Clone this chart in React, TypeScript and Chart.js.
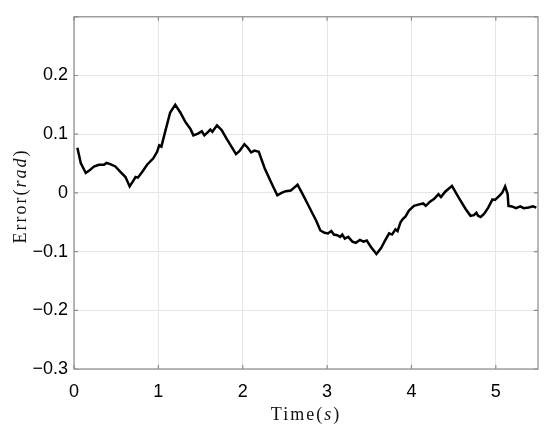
import React, { useEffect, useRef } from "react";
import { Chart, registerables } from "chart.js";

Chart.register(...registerables);

const timeValues: number[] = [
  0.04, 0.08, 0.14, 0.18, 0.236, 0.295, 0.355, 0.386, 0.43, 0.49, 0.55, 0.61, 0.66, 0.7, 0.73, 0.757,
  0.81, 0.866, 0.94, 0.985, 1.01, 1.036, 1.08, 1.14, 1.2, 1.26, 1.32, 1.38, 1.415, 1.47, 1.515, 1.545,
  1.59, 1.615, 1.64, 1.695, 1.75, 1.81, 1.87, 1.92, 1.96, 2.02, 2.06, 2.1, 2.14, 2.19, 2.26, 2.34,
  2.41, 2.46, 2.51, 2.57, 2.61, 2.65, 2.71, 2.77, 2.83, 2.87, 2.92, 2.97, 3.01, 3.05, 3.08, 3.12,
  3.155, 3.18, 3.21, 3.25, 3.3, 3.34, 3.39, 3.43, 3.47, 3.52, 3.585, 3.64, 3.68, 3.735, 3.77, 3.81,
  3.835, 3.87, 3.9, 3.93, 3.97, 4.03, 4.08, 4.14, 4.17, 4.22, 4.27, 4.32, 4.35, 4.4, 4.48, 4.56,
  4.64, 4.7, 4.74, 4.77, 4.79, 4.82, 4.86, 4.91, 4.96, 4.99, 5.035, 5.075, 5.11, 5.14, 5.15, 5.19,
  5.24, 5.29, 5.33, 5.39, 5.44, 5.48,
];

const errorValues: number[] = [
  0.077, 0.051, 0.034, 0.038, 0.045, 0.048, 0.048, 0.051, 0.049, 0.045, 0.036, 0.027, 0.011, 0.02, 0.027, 0.026,
  0.036, 0.048, 0.059, 0.07, 0.081, 0.079, 0.104, 0.137, 0.15, 0.137, 0.121, 0.109, 0.098, 0.101, 0.105, 0.098,
  0.104, 0.108, 0.104, 0.115, 0.107, 0.092, 0.078, 0.066, 0.071, 0.083, 0.077, 0.069, 0.072, 0.07, 0.042, 0.017,
  -0.004, 0.0, 0.003, 0.004, 0.009, 0.014, -0.002, -0.019, -0.036, -0.047, -0.064, -0.068, -0.069, -0.065, -0.071, -0.072,
  -0.075, -0.071, -0.078, -0.075, -0.083, -0.085, -0.08, -0.083, -0.081, -0.092, -0.104, -0.094, -0.083, -0.069, -0.071, -0.062,
  -0.065, -0.05, -0.044, -0.04, -0.03, -0.022, -0.02, -0.018, -0.022, -0.015, -0.01, -0.002, -0.007, 0.002, 0.012, -0.008,
  -0.027, -0.039, -0.038, -0.034, -0.039, -0.041, -0.036, -0.025, -0.011, -0.012, -0.006, 0.0, 0.011, -0.002, -0.022, -0.023,
  -0.026, -0.023, -0.026, -0.025, -0.023, -0.025,
];

const xTicks: number[] = [0, 1, 2, 3, 4, 5];
const yTicks: number[] = [-0.3, -0.2, -0.1, 0, 0.1, 0.2, 0.3];
const yTickLabels: string[] = ["\u22120.3", "\u22120.2", "\u22120.1", "0", "0.1", "0.2", ""];

const xTitleParts = [
  { text: "Time(", italic: false },
  { text: "s", italic: true },
  { text: ")", italic: false },
];
const yTitleParts = [
  { text: "Error(", italic: false },
  { text: "rad", italic: true },
  { text: ")", italic: false },
];

type Part = { text: string; italic: boolean };

function drawParts(ctx: CanvasRenderingContext2D, parts: Part[], cx: number, cy: number, angle: number) {
  ctx.save();
  ctx.translate(cx, cy);
  ctx.rotate(angle);
  ctx.textBaseline = "middle";
  ctx.textAlign = "left";
  ctx.fillStyle = "#111";
  const fontFor = (p: Part) => (p.italic ? "italic " : "") + "18px 'Liberation Serif', serif";
  const anyCtx = ctx as any;
  anyCtx.letterSpacing = "2px";
  let total = 0;
  const widths = parts.map((p) => {
    ctx.font = fontFor(p);
    const w = ctx.measureText(p.text).width;
    total += w;
    return w;
  });
  let x = -total / 2;
  parts.forEach((p, i) => {
    ctx.font = fontFor(p);
    ctx.fillText(p.text, x, 0);
    x += widths[i];
  });
  anyCtx.letterSpacing = "0px";
  ctx.restore();
}

const framePlugin = {
  id: "frame",
  afterDraw(chart: any) {
    const { ctx, chartArea } = chart;
    const { left, right, top, bottom } = chartArea;
    const xs = chart.scales.x;
    const ys = chart.scales.y;
    ctx.save();
    ctx.strokeStyle = "#8c8c8c";
    ctx.lineWidth = 1.2;
    ctx.strokeRect(left, top, right - left, bottom - top);
    const tl = 4;
    ctx.beginPath();
    xTicks.forEach((v) => {
      const px = xs.getPixelForValue(v);
      ctx.moveTo(px, bottom);
      ctx.lineTo(px, bottom - tl);
      ctx.moveTo(px, top);
      ctx.lineTo(px, top + tl);
    });
    yTicks.forEach((v) => {
      const py = ys.getPixelForValue(v);
      ctx.moveTo(left, py);
      ctx.lineTo(left + tl, py);
      ctx.moveTo(right, py);
      ctx.lineTo(right - tl, py);
    });
    ctx.stroke();
    ctx.restore();
    drawParts(ctx, xTitleParts, (left + right) / 2, 415, 0);
    drawParts(ctx, yTitleParts, 21, 196, -Math.PI / 2);
  },
};

export default function App() {
  const ref = useRef<HTMLCanvasElement | null>(null);
  useEffect(() => {
    if (!ref.current) return;
    const points = timeValues.map((t, i) => ({ x: t, y: errorValues[i] }));
    const tickFont = { family: "'Liberation Sans', Arial, sans-serif", size: 18 };
    const chart = new Chart(ref.current, {
      type: "line",
      data: {
        datasets: [
          {
            data: points,
            borderColor: "#000",
            borderWidth: 2.5,
            pointRadius: 0,
            tension: 0,
            fill: false,
          },
        ],
      },
      options: {
        animation: false,
        responsive: false,
        devicePixelRatio: 1,
        layout: { padding: { left: 0, top: 11, right: 12, bottom: 0 } },
        plugins: { legend: { display: false }, tooltip: { enabled: false }, title: { display: false } },
        scales: {
          x: {
            type: "linear",
            min: 0,
            max: 5.5,
            afterBuildTicks: (s: any) => {
              s.ticks = xTicks.map((v) => ({ value: v }));
            },
            afterFit: (s: any) => {
              s.height = 62;
            },
            grid: { color: "#e6e6e6", lineWidth: 1, drawTicks: false },
            border: { display: false },
            ticks: {
              font: tickFont,
              color: "#000",
              padding: 12,
              maxRotation: 0,
              autoSkip: false,
              callback: (v: any) => String(v),
            },
          },
          y: {
            type: "linear",
            min: -0.3,
            max: 0.3,
            afterBuildTicks: (s: any) => {
              s.ticks = yTicks.map((v) => ({ value: v }));
            },
            afterFit: (s: any) => {
              s.width = 74;
            },
            grid: { color: "#e6e6e6", lineWidth: 1, drawTicks: false },
            border: { display: false },
            ticks: {
              font: tickFont,
              color: "#000",
              padding: 6,
              autoSkip: false,
              callback: (_v: any, i: number) => yTickLabels[i],
            },
          },
        },
      },
      plugins: [framePlugin],
    } as any);
    return () => chart.destroy();
  }, []);
  return (
    <div style={{ position: "fixed", left: 0, top: 0, width: 550, height: 431, background: "#fff" }}>
      <canvas ref={ref} width={550} height={431} style={{ width: 550, height: 431 }} />
    </div>
  );
}
